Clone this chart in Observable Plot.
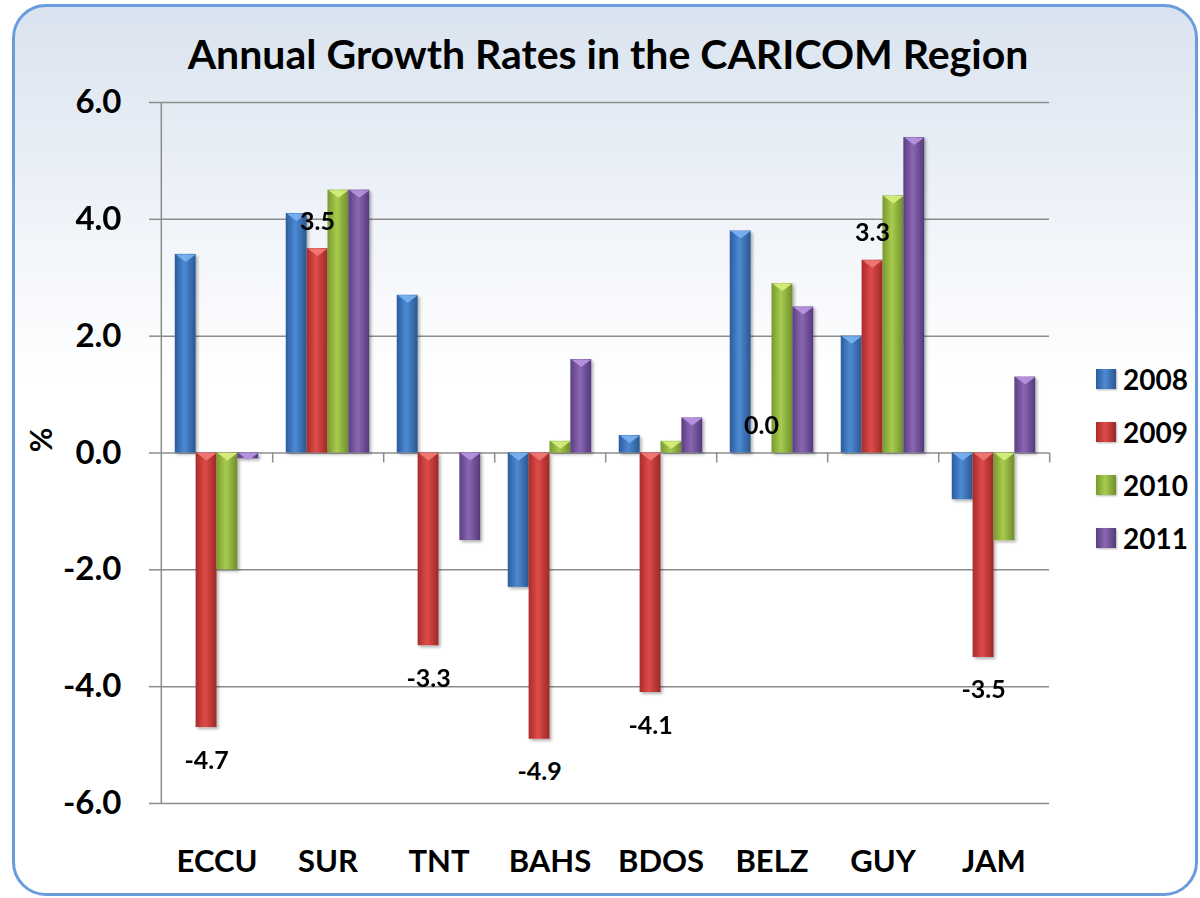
<!DOCTYPE html>
<html><head><meta charset="utf-8">
<script src="https://cdn.jsdelivr.net/npm/d3@7"></script>
<script src="https://cdn.jsdelivr.net/npm/@observablehq/plot@0.6"></script>
<style>
body{margin:0;background:#fff;}
#wrap{position:relative;width:1200px;height:898px;overflow:hidden;font-family:Lato,"Open Sans",sans-serif;color:#000;}
#box{position:absolute;left:12px;top:4px;width:1186px;height:892px;box-sizing:border-box;border:3px solid #6a9cdc;border-radius:34px;background:linear-gradient(to bottom,#d9e3ef 0%,#eef2f8 22%,#ffffff 42%,#ffffff 100%);}
#title{position:absolute;left:8px;width:1200px;top:33px;text-align:center;font-weight:700;font-size:41px;line-height:1;}
#chart{position:absolute;left:0;top:80px;}
#ylabel{position:absolute;left:40px;top:440px;transform:translate(-50%,-50%) rotate(-90deg);font-weight:700;font-size:30px;line-height:1;}
#legend{position:absolute;left:1096px;top:352px;}
.li{display:flex;align-items:center;height:53px;font-weight:700;font-size:28px;}
.sw{width:20px;height:20px;margin-right:7px;box-shadow:1px 1px 2px rgba(0,0,0,.3);}
</style></head>
<body>
<div id="wrap">
  <div id="box"></div>
  <div id="title">Annual Growth Rates in the CARICOM Region</div>
  <div id="ylabel">%</div>
  <div id="chart"></div>
  <div id="legend"></div>
</div>
<script>
const categories = ["ECCU","SUR","TNT","BAHS","BDOS","BELZ","GUY","JAM"];
const years = ["2008","2009","2010","2011"];
const v2008 = [3.4, 4.1, 2.7, -2.3, 0.3, 3.8, 2.0, -0.8];
const v2009 = [-4.7, 3.5, -3.3, -4.9, -4.1, 0.0, 3.3, -3.5];
const v2010 = [-2.0, 4.5, 0.0, 0.2, 0.2, 2.9, 4.4, -1.5];
const v2011 = [-0.1, 4.5, -1.5, 1.6, 0.6, 2.5, 5.4, 1.3];
const yTicks = [-6, -4, -2, 0, 2, 4, 6];
const labelYear = "2009";

const seriesValues = {"2008": v2008, "2009": v2009, "2010": v2010, "2011": v2011};
const colors = {
  "2008": ["#2c5c9e", "#4d8ad4", "#2a578f", "#7ab4f0"],
  "2009": ["#a82c2a", "#de4c49", "#9c2826", "#f27a77"],
  "2010": ["#78992f", "#a8cc4f", "#6f8e2b", "#d8f07e"],
  "2011": ["#5a3f82", "#8a67b3", "#533a78", "#b896e2"]
};

const rows = [];
for (const y of years) categories.forEach((c, i) => rows.push({cat: c, year: y, value: seriesValues[y][i]}));
const labelRows = rows.filter(d => d.year === labelYear);

const W = 1060, H = 810, mT = 22, mB = 87, mL = 157, mR = 8;
const padOuter = 0.66;
const facetBW = (W - mL - mR) / categories.length;
const step = facetBW / (years.length + 2 * padOuter);
const edge = step / 2 + step * padOuter;
const pxPerUnit = (H - mT - mB) / 12;
const tickLen = 10 / pxPerUnit;

// flat downward triangle for the bevel highlight at the top of each bar
const bevel = {
  draw(ctx, size) {
    const r = Math.sqrt(size / Math.PI);
    ctx.moveTo(-r, 0);
    ctx.lineTo(r, 0);
    ctx.lineTo(0, r * 0.75);
    ctx.closePath();
  }
};

const bevelMarks = years.map(y => Plot.dot(rows.filter(d => d.year === y && d.value !== 0), {
  fx: "cat", x: "year", y: d => Math.max(d.value, 0), r: step / 2 - 0.5, symbol: bevel,
  fill: colors[y][3], fillOpacity: 0.9, stroke: "none"
}));

const chart = Plot.plot({
  width: W, height: H, marginTop: mT, marginBottom: mB, marginLeft: mL, marginRight: mR,
  style: {background: "transparent", fontFamily: "Lato, 'Open Sans', sans-serif", overflow: "visible"},
  fx: {domain: categories, padding: 0, label: null},
  x: {domain: years, paddingInner: 0, paddingOuter: padOuter, round: false, axis: null},
  y: {domain: [-6, 6], label: null},
  color: {type: "ordinal", domain: years, range: years.map(y => `url(#grad${y})`)},
  marks: [
    Plot.gridY(yTicks, {stroke: "#8c8c8c", strokeOpacity: 1, strokeWidth: 1.5}),
    Plot.ruleX([categories[0]], {fx: d => d, x: () => years[0], y1: -6, y2: 6, dx: -edge, stroke: "#8c8c8c", strokeWidth: 1.5}),
    Plot.ruleX(categories, {fx: d => d, x: () => years[years.length - 1], y1: 0, y2: -tickLen, dx: edge, stroke: "#8c8c8c", strokeWidth: 1.5}),
    Plot.barY(rows, {fx: "cat", x: "year", y: "value", fill: "year"}),
    ...bevelMarks,
    Plot.axisY({ticks: yTicks, tickFormat: d => d.toFixed(1), tickSize: 12, tickPadding: 28, fontSize: 33, fontWeight: "bold", stroke: "#8c8c8c", strokeWidth: 1.5, fill: "#000", label: null}),
    Plot.axisFx({anchor: "bottom", tickSize: 0, tickPadding: 46, fontSize: 31, fontWeight: "bold", fill: "#000", label: null}),
    Plot.text(labelRows.filter(d => d.value < 0), {fx: "cat", x: "year", y: "value", text: d => d.value.toFixed(1), dy: 33, fontSize: 25, fontWeight: "bold", fill: "#000"}),
    Plot.text(labelRows.filter(d => d.value >= 0), {fx: "cat", x: "year", y: "value", text: d => d.value.toFixed(1), dy: -27, fontSize: 25, fontWeight: "bold", fill: "#000"})
  ]
});

const svg = d3.select(chart);
const defs = svg.insert("defs", ":first-child");
for (const y of years) {
  const g = defs.append("linearGradient").attr("id", `grad${y}`).attr("x1", 0).attr("x2", 1).attr("y1", 0).attr("y2", 0);
  g.append("stop").attr("offset", "0%").attr("stop-color", colors[y][0]);
  g.append("stop").attr("offset", "45%").attr("stop-color", colors[y][1]);
  g.append("stop").attr("offset", "100%").attr("stop-color", colors[y][2]);
}
const f = defs.append("filter").attr("id", "shadow").attr("x", "-20%").attr("y", "-5%").attr("width", "160%").attr("height", "115%");
f.append("feDropShadow").attr("dx", 2).attr("dy", 2).attr("stdDeviation", 1.5).attr("flood-color", "#000").attr("flood-opacity", 0.3);
svg.selectAll('g[aria-label="bar"]').attr("filter", "url(#shadow)");

document.getElementById("chart").appendChild(chart);

const legend = d3.select("#legend");
for (const y of years) {
  const item = legend.append("div").attr("class", "li");
  item.append("div").attr("class", "sw").style("background", `linear-gradient(to right, ${colors[y][0]}, ${colors[y][1]} 45%, ${colors[y][2]})`);
  item.append("span").text(y);
}
</script>
</body></html>
